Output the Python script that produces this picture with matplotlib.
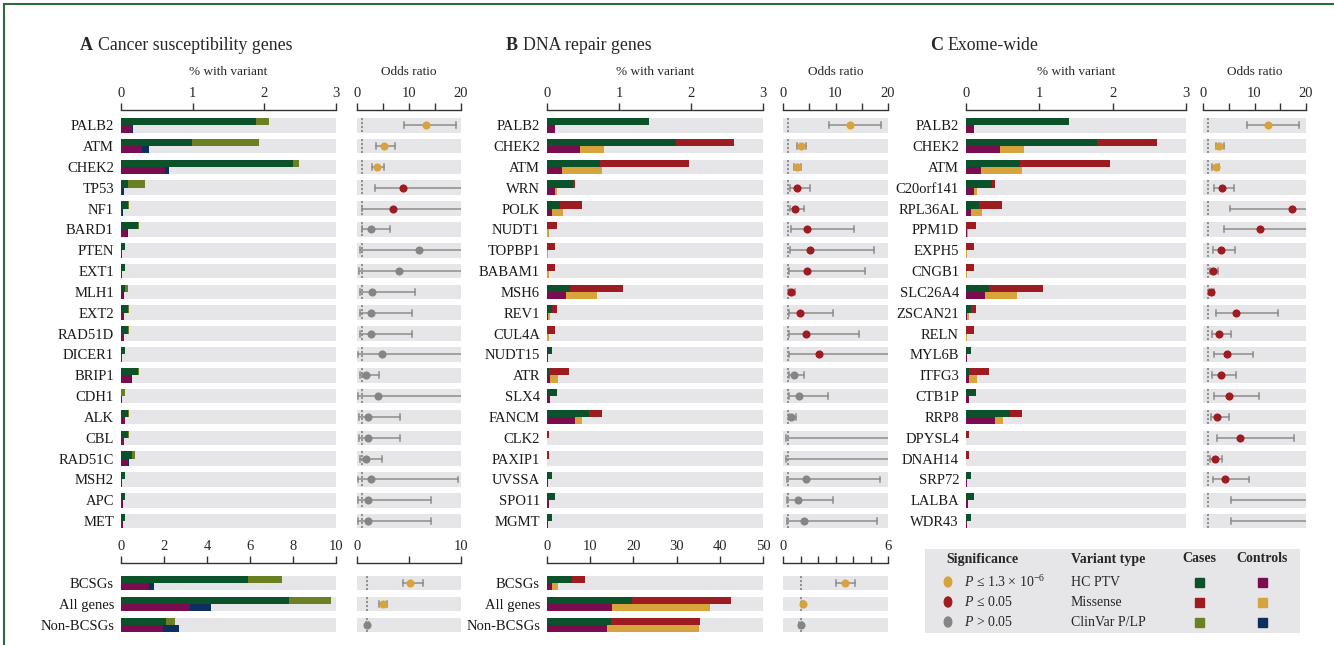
import numpy as np
import matplotlib
matplotlib.use("Agg")
import matplotlib.pyplot as plt
from matplotlib.patches import Rectangle, Ellipse
from matplotlib.ticker import FixedLocator

plt.rcParams['font.family'] = ['Liberation Serif', 'DejaVu Serif']
plt.rcParams['mathtext.fontset'] = 'custom'
plt.rcParams['mathtext.rm'] = 'Liberation Serif'
plt.rcParams['mathtext.it'] = 'Liberation Serif:italic'
plt.rcParams['text.color'] = '#262626'
plt.rcParams['xtick.color'] = '#262626'

# colours
GREEN, OLIVE, PURPLE, NAVY = '#0b5129', '#6b8023', '#7a0d4f', '#0d2f5e'
RED, YELLOW, GREYDOT, BAND = '#9c1c21', '#d6a33c', '#858585', '#e6e6e8'
SIGCOL = [YELLOW, RED, GREYDOT]

# ---------------- data: A Cancer susceptibility genes ----------------
genes_a = ["PALB2", "ATM", "CHEK2", "TP53", "NF1", "BARD1", "PTEN", "EXT1", "MLH1", "EXT2",
           "RAD51D", "DICER1", "BRIP1", "CDH1", "ALK", "CBL", "RAD51C", "MSH2", "APC", "MET"]
a_case_ptv  = [1.88, 0.99, 2.40, 0.10, 0.10, 0.24, 0.05, 0.05, 0.05, 0.10,
               0.10, 0.05, 0.24, 0.00, 0.10, 0.10, 0.15, 0.05, 0.05, 0.05]
a_case_clin = [0.18, 0.93, 0.08, 0.23, 0.01, 0.01, 0.00, 0.00, 0.05, 0.01,
               0.01, 0.00, 0.01, 0.05, 0.01, 0.01, 0.045, 0.00, 0.00, 0.00]
a_ctrl_ptv  = [0.15, 0.29, 0.62, 0.014, 0.01, 0.088, 0.01, 0.01, 0.028, 0.042,
               0.042, 0.014, 0.144, 0.014, 0.05, 0.037, 0.10, 0.01, 0.028, 0.028]
a_ctrl_clin = [0.015, 0.10, 0.05, 0.023, 0.013, 0.01, 0.0, 0.0, 0.01, 0.0,
               0.0, 0.0, 0.01, 0.0, 0.0, 0.01, 0.007, 0.01, 0.0, 0.0]
a_or  = [13.2, 5.1, 3.9, 8.9, 6.9, 2.6, 12.0, 8.0, 2.9, 2.6, 2.6, 4.8, 1.7, 4.1, 2.1, 2.1, 1.7, 2.7, 2.2, 2.2]
a_lo  = [9.0, 3.7, 2.9, 3.5, 1.0, 1.0, 0.5, 0.4, 0.5, 0.5, 0.5, 0.2, 0.6, 0.2, 0.4, 0.4, 0.6, 0.2, 0.2, 0.2]
a_hi  = [19.1, 7.3, 5.2, 99, 99, 6.4, 99, 99, 11.2, 10.6, 10.6, 99, 4.2, 99, 8.3, 8.3, 4.8, 19.5, 14.2, 14.2]
a_sig = [0, 0, 0, 1, 1] + [2] * 15

# ---------------- data: B DNA repair genes ----------------
genes_b = ["PALB2", "CHEK2", "ATM", "WRN", "POLK", "NUDT1", "TOPBP1", "BABAM1", "MSH6", "REV1",
           "CUL4A", "NUDT15", "ATR", "SLX4", "FANCM", "CLK2", "PAXIP1", "UVSSA", "SPO11", "MGMT"]
b_case_ptv = [1.41, 1.79, 0.73, 0.36, 0.18, 0, 0, 0, 0.32, 0.074,
              0, 0.07, 0.028, 0.139, 0.59, 0, 0, 0.07, 0.107, 0.07]
b_case_mis = [0, 0.81, 1.24, 0.03, 0.31, 0.144, 0.107, 0.107, 0.73, 0.07,
              0.107, 0, 0.28, 0, 0.18, 0.033, 0.033, 0, 0, 0]
b_ctrl_ptv = [0.11, 0.46, 0.21, 0.107, 0.07, 0, 0, 0, 0.26, 0.019,
              0, 0.014, 0.046, 0.042, 0.39, 0, 0, 0.014, 0.033, 0.014]
b_ctrl_mis = [0, 0.33, 0.56, 0.037, 0.15, 0.028, 0.019, 0.023, 0.44, 0.027,
              0.023, 0, 0.107, 0, 0.10, 0.005, 0.005, 0, 0, 0]
b_or  = [12.7, 3.4, 2.6, 2.7, 2.3, 4.6, 5.2, 4.5, 1.5, 3.3, 4.3, 6.9, 2.0, 3.0, 1.6, np.nan, np.nan, 4.4, 2.9, 4.0]
b_lo  = [8.7, 2.7, 2.0, 1.3, 1.4, 1.5, 1.3, 1.2, 1.2, 1.2, 1.2, 1.2, 1.2, 1.1, 1.2, 0.6, 0.6, 0.8, 0.8, 0.8]
b_hi  = [18.7, 4.3, 3.4, 5.2, 4.0, 13.5, 17.3, 15.7, 2.2, 9.6, 14.4, 99, 4.0, 8.6, 2.4, 99, 99, 18.5, 9.6, 17.9]
b_sig = [0, 0, 0] + [1] * 9 + [2] * 8

# ---------------- data: C Exome-wide ----------------
genes_c = ["PALB2", "CHEK2", "ATM", "C20orf141", "RPL36AL", "PPM1D", "EXPH5", "CNGB1", "SLC26A4", "ZSCAN21",
           "RELN", "MYL6B", "ITFG3", "CTB1P", "RRP8", "DPYSL4", "DNAH14", "SRP72", "LALBA", "WDR43"]
c_case_ptv = [1.41, 1.79, 0.74, 0.35, 0.18, 0, 0, 0, 0.31, 0.068,
              0, 0.068, 0.036, 0.141, 0.60, 0, 0, 0.068, 0.105, 0.068]
c_case_mis = [0, 0.81, 1.23, 0.04, 0.31, 0.141, 0.105, 0.105, 0.74, 0.073,
              0.105, 0, 0.274, 0, 0.17, 0.036, 0.036, 0, 0, 0]
c_ctrl_ptv = [0.11, 0.46, 0.21, 0.105, 0.064, 0.014, 0, 0, 0.255, 0.018,
              0, 0.014, 0.046, 0.046, 0.39, 0, 0, 0.018, 0.032, 0.018]
c_ctrl_mis = [0, 0.33, 0.56, 0.041, 0.156, 0.018, 0.018, 0.018, 0.445, 0.023,
              0.018, 0, 0.109, 0, 0.11, 0.005, 0.005, 0, 0, 0]
c_or  = [12.6, 3.2, 2.5, 3.6, 17.2, 11.0, 3.5, 2.0, 1.6, 6.4, 3.1, 4.6, 3.4, 5.0, 2.8, 7.1, 2.3, 4.2, np.nan, np.nan]
c_lo  = [8.5, 2.6, 1.8, 2.1, 5.2, 4.1, 1.9, 1.3, 1.2, 2.6, 1.8, 2.1, 1.8, 2.1, 1.6, 2.8, 1.4, 1.9, 5.5, 5.5]
c_hi  = [18.6, 4.1, 3.2, 6.0, 99, 99, 6.3, 3.0, 2.1, 14.6, 5.5, 9.8, 6.4, 10.9, 5.0, 17.7, 3.7, 8.9, 99, 99]
c_sig = [0, 0, 0] + [1] * 15 + [2, 2]

# ---------------- data: gene sets ----------------
sets = ["BCSGs", "All genes", "Non-BCSGs"]
sa_case_ptv, sa_case_clin = [5.90, 7.80, 2.09], [1.58, 1.95, 0.42]
sa_ctrl_ptv, sa_ctrl_clin = [1.32, 3.19, 1.97], [0.21, 0.99, 0.72]
sa_or, sa_lo, sa_hi, sa_sig = [5.1, 2.5, 1.0], [4.4, 2.1, 0.85], [6.3, 2.9, 1.15], [0, 0, 2]
sb_case_ptv, sb_case_mis = [5.8, 19.7, 14.8], [2.9, 22.8, 20.6]
sb_ctrl_ptv, sb_ctrl_mis = [1.24, 15.1, 13.8], [1.36, 22.6, 21.3]
sb_or, sb_lo, sb_hi, sb_sig = [3.55, 1.16, 1.0], [3.0, 1.1, 0.94], [4.1, 1.22, 1.06], [0, 0, 2]

W, H = 1334, 645
fig = plt.figure(figsize=(W / 100, H / 100), dpi=100)
fig.patch.set_facecolor('white')
fig.add_artist(Rectangle((4 / W, -0.1), 1.2, 1 - 4 / H + 0.1, transform=fig.transFigure,
                         fill=False, edgecolor='#2d6a40', lw=1.5))


def px_axes(x0, x1, y0, y1):
    return fig.add_axes([x0 / W, 1 - y1 / H, (x1 - x0) / W, (y1 - y0) / H])


def style(ax, xmax, major, minor=None):
    for s in ["left", "right", "bottom"]:
        ax.spines[s].set_visible(False)
    ax.spines["top"].set_color('#333333')
    ax.spines["top"].set_linewidth(1.0)
    ax.xaxis.tick_top()
    ax.set_xlim(0, xmax)
    ax.xaxis.set_major_locator(FixedLocator(major))
    if minor is not None:
        ax.xaxis.set_minor_locator(FixedLocator(minor))
    ax.tick_params(axis='x', which='both', direction='out', length=5, width=1, labelsize=10.5, pad=2,
                   color='#333333')
    ax.tick_params(axis='y', length=0, pad=5, labelsize=10.5, labelcolor='#1a1a1a')
    ax.set_facecolor('none')


def bars(ax, labels, cases, ctrls, ccols, kcols, xmax, ylim, rowh=0.70):
    y = np.arange(len(labels))
    ax.barh(y, [xmax] * len(y), height=rowh, color=BAND, zorder=1)
    left = np.zeros(len(y))
    for v, col in zip(cases, ccols):
        ax.barh(y - rowh / 4, v, height=rowh / 2, left=left, color=col, zorder=2)
        left = left + np.array(v)
    left = np.zeros(len(y))
    for v, col in zip(ctrls, kcols):
        ax.barh(y + rowh / 4, v, height=rowh / 2, left=left, color=col, zorder=2)
        left = left + np.array(v)
    ax.set_yticks(y)
    ax.set_yticklabels(labels)
    ax.set_ylim(*ylim)


def odds(ax, orv, lo, hi, sig, xmax, ylim, rowh=0.70):
    y = np.arange(len(orv))
    ax.barh(y, [xmax] * len(y), height=rowh, color=BAND, zorder=1)
    ax.vlines([1] * len(y), y - rowh / 2, y + rowh / 2, colors='#8a8a8a', linestyles=(0, (1.2, 1)),
              lw=1.3, zorder=2)
    for i in range(len(y)):
        h = min(hi[i], xmax)
        ax.plot([lo[i], h], [y[i], y[i]], color='#8c8c8c', lw=1.1, zorder=3)
        ax.plot([lo[i], lo[i]], [y[i] - 0.14, y[i] + 0.14], color='#8c8c8c', lw=1.1, zorder=3)
        if hi[i] <= xmax:
            ax.plot([hi[i], hi[i]], [y[i] - 0.14, y[i] + 0.14], color='#8c8c8c', lw=1.1, zorder=3)
        if not np.isnan(orv[i]):
            ax.scatter(orv[i], y[i], s=34, color=SIGCOL[sig[i]], zorder=4, linewidths=0)
    ax.set_yticks([])
    ax.set_ylim(*ylim)


TOP_Y0, TOP_Y1 = 110, 532
top_ylim = (19.52, -0.73)
BOT_Y0, BOT_Y1 = 563, 640
bot_ylim = (2.72, -0.95)

panels = [
    dict(bx=(121, 336), ox=(357, 461), genes=genes_a,
         cases=[a_case_ptv, a_case_clin], ctrls=[a_ctrl_ptv, a_ctrl_clin], ccols=[GREEN, OLIVE], kcols=[PURPLE, NAVY],
         orv=a_or, lo=a_lo, hi=a_hi, sig=a_sig,
         scases=[sa_case_ptv, sa_case_clin], sctrls=[sa_ctrl_ptv, sa_ctrl_clin],
         sor=sa_or, slo=sa_lo, shi=sa_hi, ssig=sa_sig,
         smax=10, smaj=[0, 2, 4, 6, 8, 10], somax=10, somaj=[0, 10], somin=[5],
         title=("A", "Cancer susceptibility genes", 80, 98)),
    dict(bx=(547, 763), ox=(783, 888), genes=genes_b,
         cases=[b_case_ptv, b_case_mis], ctrls=[b_ctrl_ptv, b_ctrl_mis], ccols=[GREEN, RED], kcols=[PURPLE, YELLOW],
         orv=b_or, lo=b_lo, hi=b_hi, sig=b_sig,
         scases=[sb_case_ptv, sb_case_mis], sctrls=[sb_ctrl_ptv, sb_ctrl_mis],
         sor=sb_or, slo=sb_lo, shi=sb_hi, ssig=sb_sig,
         smax=50, smaj=[0, 10, 20, 30, 40, 50], somax=6, somaj=[0, 6], somin=[1, 2, 3, 4, 5],
         title=("B", "DNA repair genes", 506, 523)),
    dict(bx=(966, 1186), ox=(1203, 1306), genes=genes_c,
         cases=[c_case_ptv, c_case_mis], ctrls=[c_ctrl_ptv, c_ctrl_mis], ccols=[GREEN, RED], kcols=[PURPLE, YELLOW],
         orv=c_or, lo=c_lo, hi=c_hi, sig=c_sig,
         title=("C", "Exome-wide", 930, 947)),
]

for p in panels:
    ax = px_axes(p['bx'][0], p['bx'][1], TOP_Y0, TOP_Y1)
    bars(ax, p['genes'], p['cases'], p['ctrls'], p['ccols'], p['kcols'], 3, top_ylim)
    style(ax, 3, [0, 1, 2, 3])
    ax2 = px_axes(p['ox'][0], p['ox'][1], TOP_Y0, TOP_Y1)
    odds(ax2, p['orv'], p['lo'], p['hi'], p['sig'], 20, top_ylim)
    style(ax2, 20, [0, 10, 20], [5, 15])
    fig.text(sum(p['bx']) / 2 / W, 1 - 72 / H, "% with variant", ha='center', va='center', fontsize=9.5)
    fig.text(sum(p['ox']) / 2 / W, 1 - 72 / H, "Odds ratio", ha='center', va='center', fontsize=9.5)
    t = p['title']
    fig.text(t[2] / W, 1 - 45 / H, t[0], ha='left', va='center', fontsize=13, fontweight='bold')
    fig.text(t[3] / W, 1 - 45 / H, t[1], ha='left', va='center', fontsize=12.8)
    if 'scases' in p:
        ax3 = px_axes(p['bx'][0], p['bx'][1], BOT_Y0, BOT_Y1)
        bars(ax3, sets, p['scases'], p['sctrls'], p['ccols'], p['kcols'], p['smax'], bot_ylim)
        style(ax3, p['smax'], p['smaj'])
        ax4 = px_axes(p['ox'][0], p['ox'][1], BOT_Y0, BOT_Y1)
        odds(ax4, p['sor'], p['slo'], p['shi'], p['ssig'], p['somax'], bot_ylim)
        style(ax4, p['somax'], p['somaj'], p['somin'])

# ---------------- legend ----------------
fig.add_artist(Rectangle((925 / W, 1 - 633 / H), (1300 - 925) / W, (633 - 549) / H,
                         transform=fig.transFigure, facecolor=BAND, edgecolor='none'))
hy = 559
fig.text(946 / W, 1 - hy / H, "Significance", fontweight='bold', fontsize=10, va='center')
fig.text(1071 / W, 1 - hy / H, "Variant type", fontweight='bold', fontsize=10, va='center')
fig.text(1199 / W, 1 - hy / H, "Cases", fontweight='bold', fontsize=10, va='center', ha='center')
fig.text(1262 / W, 1 - hy / H, "Controls", fontweight='bold', fontsize=10, va='center', ha='center')
sig_txt = [r"$P$ ≤ 1.3 × 10$^{-6}$", r"$P$ ≤ 0.05", r"$P$ > 0.05"]
vt_txt = ["HC PTV", "Missense", "ClinVar P/LP"]
case_cols = [GREEN, RED, OLIVE]
ctrl_cols = [PURPLE, YELLOW, NAVY]
for i, yy in enumerate([582, 602, 622]):
    fig.add_artist(Ellipse((948 / W, 1 - yy / H), 7.5 / W, 10 / H,
                           transform=fig.transFigure, color=SIGCOL[i]))
    fig.text(964 / W, 1 - yy / H, sig_txt[i], fontsize=10, va='center')
    fig.text(1071 / W, 1 - yy / H, vt_txt[i], fontsize=10, va='center')
    for cx, col in [(1199, case_cols[i]), (1262, ctrl_cols[i])]:
        fig.add_artist(Rectangle(((cx - 4.5) / W, 1 - (yy + 4.5) / H), 9 / W, 9 / H,
                                 transform=fig.transFigure, color=col))

fig.savefig("out.png", dpi=100)
